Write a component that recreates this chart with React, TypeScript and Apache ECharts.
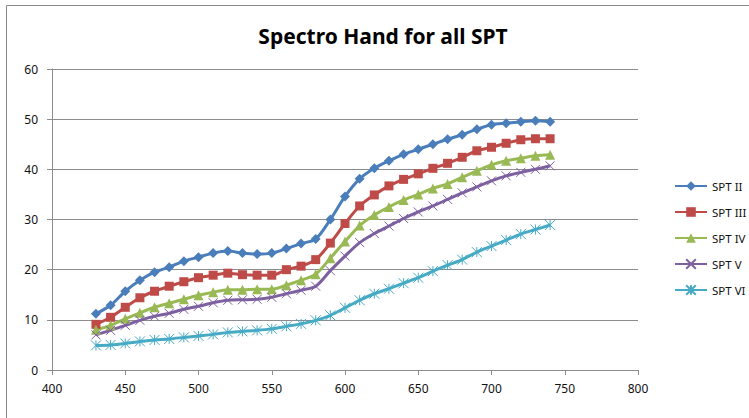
import React, { useEffect, useRef } from "react";
import * as echarts from "echarts";

const wavelengths = [430, 440, 450, 460, 470, 480, 490, 500, 510, 520, 530, 540, 550, 560, 570, 580, 590, 600, 610, 620, 630, 640, 650, 660, 670, 680, 690, 700, 710, 720, 730, 740];

const spt2 = [11.2, 12.9, 15.7, 17.9, 19.5, 20.5, 21.7, 22.5, 23.3, 23.7, 23.3, 23.1, 23.3, 24.2, 25.2, 26.1, 30.0, 34.6, 38.1, 40.2, 41.7, 43.0, 44.0, 45.0, 46.0, 46.9, 48.0, 48.9, 49.2, 49.5, 49.7, 49.5];
const spt3 = [9.1, 10.5, 12.5, 14.4, 15.7, 16.7, 17.6, 18.4, 18.9, 19.3, 19.0, 18.9, 18.9, 20.0, 20.7, 22.0, 25.3, 29.2, 32.7, 34.9, 36.7, 38.0, 39.1, 40.2, 41.2, 42.4, 43.7, 44.4, 45.2, 45.9, 46.1, 46.1];
const spt4 = [8.0, 8.9, 10.2, 11.4, 12.5, 13.3, 14.1, 14.9, 15.5, 16.0, 16.0, 16.1, 16.1, 16.9, 17.9, 19.1, 22.3, 25.6, 28.8, 30.9, 32.5, 33.9, 35.0, 36.2, 37.1, 38.4, 39.7, 40.9, 41.7, 42.2, 42.7, 42.9];
const spt5 = [7.0, 7.9, 8.9, 9.9, 10.7, 11.3, 12.1, 12.7, 13.4, 13.9, 14.0, 14.1, 14.5, 15.2, 15.9, 16.7, 19.8, 22.7, 25.4, 27.2, 28.7, 30.2, 31.5, 32.7, 34.0, 35.3, 36.5, 37.7, 38.7, 39.4, 40.0, 40.7];
const spt6 = [4.9, 5.0, 5.3, 5.7, 6.0, 6.2, 6.5, 6.8, 7.1, 7.5, 7.7, 7.9, 8.2, 8.7, 9.2, 9.9, 10.9, 12.4, 13.9, 15.2, 16.2, 17.3, 18.4, 19.7, 20.9, 22.0, 23.5, 24.7, 25.9, 27.1, 28.0, 28.9];

const seriesNames = ["SPT II", "SPT III", "SPT IV", "SPT V", "SPT VI"];
const seriesValues = [spt2, spt3, spt4, spt5, spt6];
const seriesColors = ["#4A7EBB", "#BE4B48", "#98B954", "#7D60A0", "#46AAC5"];
const seriesSymbols = [
  "diamond",
  "rect",
  "triangle",
  "path://M0,0L10,10M10,0L0,10",
  "path://M5,0L5,10M0,0L10,10M10,0L0,10",
];
const symbolSizes = [10, 9, 10, 9, 10];

export default function App() {
  const ref = useRef<HTMLDivElement>(null);
  useEffect(() => {
    if (!ref.current) return;
    const chart = echarts.init(ref.current, undefined, { renderer: "svg" });
    const font = "'Noto Sans', sans-serif";
    const series = seriesNames.map((name, i) => {
      const stroked = i >= 3;
      return {
        name,
        type: "line",
        smooth: 0.3,
        data: wavelengths.map((x, j) => [x, seriesValues[i][j]]),
        symbol: seriesSymbols[i],
        symbolSize: symbolSizes[i],
        symbolKeepAspect: true,
        showSymbol: true,
        lineStyle: { color: seriesColors[i], width: 3 },
        itemStyle: stroked
          ? { color: "rgba(0,0,0,0)", borderColor: seriesColors[i], borderWidth: 1 }
          : { color: seriesColors[i], borderWidth: 0 },
        emphasis: { disabled: true },
      };
    });
    chart.setOption({
      animation: false,
      textStyle: { fontFamily: font },
      title: {
        text: "Spectro Hand for all SPT",
        left: 378,
        top: 20,
        textAlign: "center",
        textStyle: { fontFamily: font, fontSize: 21, fontWeight: "bold", color: "#000" },
      },
      graphic: [
        {
          type: "rect",
          shape: { x: 6.5, y: 5.5, width: 800, height: 500 },
          style: { fill: "none", stroke: "#8a8a8a", lineWidth: 1 },
          silent: true,
        },
      ],
      legend: {
        orient: "vertical",
        left: 669,
        top: 175,
        itemWidth: 32,
        itemHeight: 12,
        itemGap: 14,
        textStyle: { fontFamily: font, fontSize: 11.5, color: "#111" },
        data: seriesNames,
      },
      grid: { left: 52, right: 111, top: 69, bottom: 48 },
      xAxis: {
        type: "value",
        min: 400,
        max: 800,
        interval: 50,
        axisLine: { lineStyle: { color: "#8c8c8c", width: 1 } },
        axisTick: { show: true, length: 5, lineStyle: { color: "#8c8c8c" } },
        axisLabel: { fontFamily: font, fontSize: 12, color: "#111", margin: 12 },
        splitLine: { show: false },
      },
      yAxis: {
        type: "value",
        min: 0,
        max: 60,
        interval: 10,
        axisLine: { show: true, lineStyle: { color: "#8c8c8c", width: 1 } },
        axisTick: { show: true, length: 5, lineStyle: { color: "#8c8c8c" } },
        axisLabel: { fontFamily: font, fontSize: 12, color: "#111", margin: 14 },
        splitLine: { show: true, lineStyle: { color: "#8c8c8c", width: 1 } },
      },
      series,
    });
    return () => chart.dispose();
  }, []);
  return (
    <div
      ref={ref}
      style={{ position: "fixed", left: 0, top: 0, width: 749, height: 418, background: "#fff" }}
    />
  );
}
